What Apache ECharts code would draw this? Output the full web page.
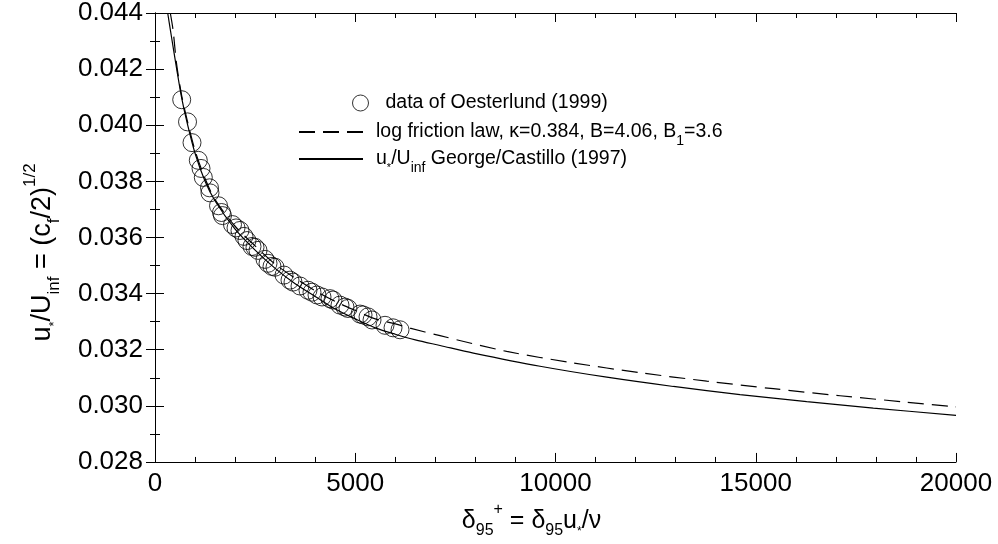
<!DOCTYPE html>
<html><head><meta charset="utf-8">
<script src="https://cdn.jsdelivr.net/npm/echarts@6/dist/echarts.min.js"></script>
<style>html,body{margin:0;padding:0;background:#fff}#c{width:998px;height:544px}</style>
</head><body><div id="c"></div>
<script>
// Oesterlund (1999) data
const dataX = [667,812,924,1081,1149,1206,1361,1373,1586,1660,1685,1935,2023,2122,2222,2297,2422,2497,2572,2747,2822,2921,2996,3221,3371,3446,3621,3820,3920,4045,4170,4370,4445,4619,4744,4819,5119,5194,5319,5419,5743,5943,6118];
const dataY = [0.04091,0.04012,0.03938,0.03875,0.03846,0.03814,0.03777,0.03759,0.03713,0.03689,0.03678,0.03646,0.03634,0.03625,0.03604,0.03589,0.03568,0.03565,0.03554,0.03522,0.03508,0.03497,0.03494,0.03466,0.03448,0.03441,0.03427,0.03412,0.03405,0.03395,0.03388,0.03382,0.03377,0.03359,0.03352,0.03347,0.03327,0.03324,0.03317,0.03306,0.03287,0.03278,0.03271];
// log friction law (dashed)
const logX = [382,450,542,667,800,1000,1250,1500,2000,2500,3000,3500,4000,4500,5000,5500,6000,6367,7117,8782,10445,12110,13776,15439,17104,18770,20000];
const logY = [0.0440,0.0434,0.04215,0.04105,0.0402,0.0391,0.0381,0.03735,0.0364,0.0357,0.03505,0.03455,0.0341,0.03372,0.0334,0.0331,0.03292,0.03277,0.0325,0.03194,0.03153,0.03118,0.03088,0.03061,0.03036,0.03013,0.02996];
// George/Castillo (1997) (solid)
const gcX = [317,417,542,667,800,1000,1250,1500,2000,2500,3000,3500,4000,4500,5000,5500,6000,6500,7117,7949,9614,11280,12943,14607,16273,17936,20000];
const gcY = [0.0440,0.0431,0.0420,0.04097,0.0401,0.0390,0.0380,0.0373,0.0363,0.03555,0.0349,0.03435,0.0339,0.03345,0.0331,0.03278,0.03255,0.03235,0.03215,0.03188,0.03141,0.03102,0.03069,0.03040,0.03015,0.02992,0.02966];
const xTickLabels = ['0','5000','10000','15000','20000'];
const yTickLabels = ['0.028','0.030','0.032','0.034','0.036','0.038','0.040','0.042','0.044'];

const FONT = 'Liberation Sans';
const zip = (a, b) => a.map((v, i) => [v, b[i]]);
// rich text styles with real sub/superscript offsets
function rich(F, S, A, P, drop, rise, dropA, padB) {
  const mainCenter = P + F / 2;
  const mainBase = mainCenter + 0.35 * F;
  const Q = Math.max(0, mainBase + drop - 0.85 * S);
  const T = Math.max(0, mainCenter - rise - S / 2);
  const Qa = Math.max(0, mainBase + dropA - 0.85 * A);
  const base = {fontFamily: FONT, color: '#000', verticalAlign: 'top'};
  return {
    m: Object.assign({fontSize: F, lineHeight: F, padding: [P, 0, padB || 0, 0]}, base),
    sub: Object.assign({fontSize: S, lineHeight: S, padding: [Q, 0, 0, 0]}, base),
    sup: Object.assign({fontSize: S, lineHeight: S, padding: [T, 0, 0, 0]}, base),
    ast: Object.assign({fontSize: A, lineHeight: A, padding: [Qa, 0, 0, 0]}, base),
    gap: {width: 12},
    g8: {width: 8}
  };
}
const legendNames = {
  data: '{gap|}{m|data of Oesterlund (1999)}',
  log: '{g8|}{m|log friction law, \u03ba=0.384, B=4.06, B}{sub|1}{m|=3.6}',
  gc: '{g8|}{m|u}{ast|*}{m|/U}{sub|inf}{m| George/Castillo (1997)}'
};
const chart = echarts.init(document.getElementById('c'));
const axisCommon = {
  axisLine: {lineStyle: {color: '#000', width: 1}},
  splitLine: {show: false},
  axisTick: {inside: true, length: 9, lineStyle: {color: '#000'}}
};
chart.setOption({
  animation: false,
  backgroundColor: '#fff',
  textStyle: {fontFamily: FONT},
  grid: {left: 155, right: 42, top: 11, bottom: 81},
  legend: [
    {
      data: ['data'], left: 347, top: 88, itemWidth: 16, itemHeight: 16,
      itemStyle: {color: 'rgba(0,0,0,0)', borderColor: '#000', borderWidth: 1},
      formatter: n => legendNames[n],
      textStyle: {fontSize: 19.5, fontFamily: FONT, color: '#000', rich: rich(19.5, 14, 11, 0, 7, 8, 6)}
    },
    {
      data: ['log', 'gc'], orient: 'vertical', left: 293, top: 117, itemWidth: 64, itemHeight: 14, itemGap: -5,
      itemStyle: {color: 'rgba(0,0,0,0)', borderColor: 'rgba(0,0,0,0)', borderWidth: 0, opacity: 0},
      formatter: n => legendNames[n],
      textStyle: {fontSize: 19.5, fontFamily: FONT, color: '#000', rich: rich(19.5, 14, 11, 0, 7, 8, 6, 12)}
    }
  ],
  xAxis: [
    Object.assign({}, axisCommon, {
      type: 'value', min: 0, max: 20000, interval: 5000, position: 'bottom',
      minorTick: {show: true, splitNumber: 5, length: 5, lineStyle: {color: '#000'}},
      axisLabel: {fontSize: 26, fontFamily: FONT, color: '#000', margin: 9,
        formatter: (v, i) => xTickLabels[i]},
      name: '{m|\u03b4}{sub|95}{sup|+}{m| = \u03b4}{sub|95}{m|u}{ast|*}{m|/\u03bd}',
      nameLocation: 'middle', nameGap: 36,
      nameTextStyle: {fontSize: 25, fontFamily: FONT, color: '#000', padding: [0, 48, 0, 0],
        rich: rich(25, 16, 12, 6.5, 7, 12, 6)}
    }),
    Object.assign({}, axisCommon, {
      type: 'value', min: 0, max: 20000, interval: 5000, position: 'top',
      minorTick: {show: true, splitNumber: 5, length: 5, lineStyle: {color: '#000'}},
      axisLabel: {show: false}
    })
  ],
  yAxis: [
    Object.assign({}, axisCommon, {
      type: 'value', min: 0.028, max: 0.044, interval: 0.002, position: 'left',
      minorTick: {show: true, splitNumber: 2, length: 5, lineStyle: {color: '#000'}},
      axisLabel: {fontSize: 26, fontFamily: FONT, color: '#000', margin: 12,
        formatter: (v, i) => yTickLabels[i]},
      name: '{m|u}{ast|*}{m|/U}{sub|inf}{m| = (c}{sub|f}{m|/2)}{sup|1/2}',
      nameLocation: 'middle', nameGap: 106, nameRotate: 90,
      nameTextStyle: {fontSize: 27, fontFamily: FONT, color: '#000', padding: [0, 30, 0, 0],
        rich: rich(27, 17, 13, 7, 8, 12, 7)}
    }),
    Object.assign({}, axisCommon, {
      type: 'value', min: 0.028, max: 0.044, interval: 0.002, position: 'right',
      minorTick: {show: true, splitNumber: 2, length: 5, lineStyle: {color: '#000'}},
      axisLabel: {show: false}
    })
  ],
  series: [
    {
      name: 'data', type: 'scatter', data: zip(dataX, dataY), symbol: 'circle', symbolSize: 18,
      itemStyle: {color: 'rgba(0,0,0,0)', borderColor: '#000', borderWidth: 1}, z: 3
    },
    {
      name: 'log', type: 'line', data: zip(logX, logY), symbol: 'none', showSymbol: false,
      smooth: 0.3, lineStyle: {color: '#000', width: 1.2, type: [16, 8]}, itemStyle: {color: '#000'}
    },
    {
      name: 'gc', type: 'line', data: zip(gcX, gcY), symbol: 'none', showSymbol: false,
      smooth: 0.3, lineStyle: {color: '#000', width: 1.2, type: 'solid'}, itemStyle: {color: '#000'}
    }
  ]
});
</script></body></html>
